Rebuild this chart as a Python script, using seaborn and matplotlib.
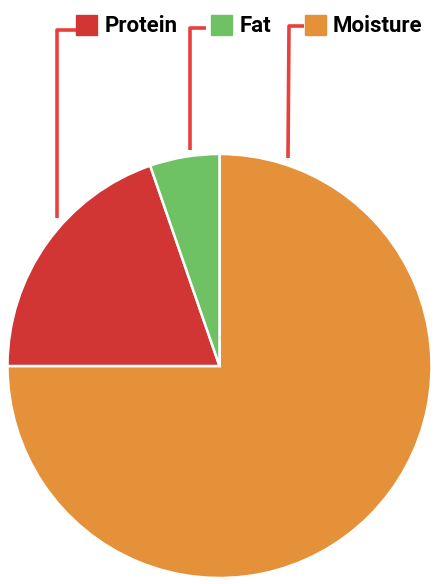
import matplotlib
matplotlib.use("Agg")
import matplotlib.pyplot as plt
import seaborn as sns
from matplotlib.patches import Patch

# composition values (percent)
labels = ["Protein", "Fat", "Moisture"]
values = [19.7, 5.3, 75.0]
colors = ["#d13534", "#6fc263", "#e5913a"]
line_color = "#e8403c"

sns.set_theme(style="white")
plt.rcParams["font.family"] = ["Roboto", "DejaVu Sans"]
plt.rcParams["text.color"] = "black"

fig = plt.figure(figsize=(4.39, 5.84), dpi=100)
ax = fig.add_axes([0, 0, 1, 1])

# pie drawn clockwise from 12 o'clock, moisture first
order = [2, 0, 1]
ax.pie([values[i] for i in order], colors=[colors[i] for i in order],
       startangle=90, counterclock=False, center=(219.5, 218), radius=212,
       wedgeprops=dict(edgecolor="white", linewidth=1.8), frame=True)
ax.set_xlim(0, 439)
ax.set_ylim(0, 584)
ax.set_aspect("equal")
ax.axis("off")

handles = [Patch(facecolor=c, edgecolor=c) for c in colors]
leg = ax.legend(handles, labels, ncol=3, loc="center",
                bbox_to_anchor=(249.5 / 439, 1 - 26 / 584), frameon=False,
                handlelength=0.95, handleheight=1.0, handletextpad=0.33,
                columnspacing=1.5, borderpad=0, borderaxespad=0,
                labelcolor="black", prop=dict(size=16, weight="bold"))

# connector lines from legend keys down towards the pie
connectors = [
    [(78, 554), (57, 554), (57, 366)],
    [(206, 556), (190, 556), (190, 434)],
    [(304, 558), (289, 558), (288, 426)],
]
for pts in connectors:
    xs, ys = zip(*pts)
    ax.plot(xs, ys, color=line_color, lw=2.6, solid_capstyle="butt")

fig.savefig("out.png", dpi=100)
